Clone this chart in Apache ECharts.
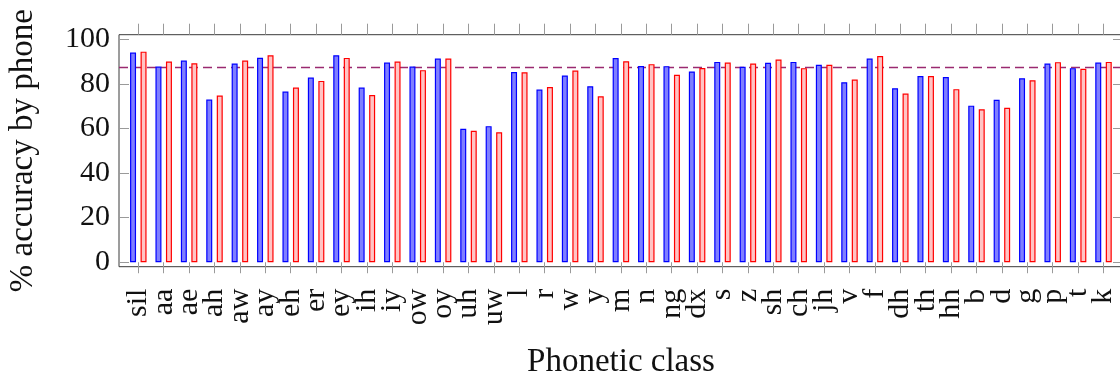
<!DOCTYPE html>
<html>
<head>
<meta charset="utf-8">
<script src="https://cdn.jsdelivr.net/npm/echarts@6/dist/echarts.min.js"></script>
<style>
  html, body { margin: 0; padding: 0; background: #fff; }
  #chart { width: 1120px; height: 377px; }
</style>
</head>
<body>
<div id="chart"></div>
<script>
// Phone classes on the x axis
const categories = ['sil','aa','ae','ah','aw','ay','eh','er','ey','ih','iy','ow','oy','uh','uw',
  'l','r','w','y','m','n','ng','dx','s','z','sh','ch','jh','v','f','dh','th','hh','b','d','g','p','t','k'];

// Accuracy (%) per phone class for the two systems
const accuracyBlue = [94.0, 87.7, 90.4, 72.9, 89.1, 91.7, 76.5, 82.8, 92.8, 78.3, 89.5, 87.7, 91.3, 59.8, 61.0,
  85.3, 77.4, 83.7, 78.9, 91.5, 88.0, 87.9, 85.5, 89.8, 87.6, 89.4, 89.8, 88.5, 80.7, 91.3, 78.0, 83.5, 83.0,
  70.2, 72.8, 82.5, 89.1, 87.0, 89.5];
const accuracyRed = [94.4, 90.0, 89.2, 74.7, 90.4, 92.8, 78.3, 81.3, 91.6, 75.0, 90.0, 86.1, 91.3, 58.9, 58.3,
  85.2, 78.5, 85.9, 74.4, 90.1, 88.8, 84.0, 87.1, 89.5, 89.1, 90.9, 87.0, 88.5, 81.9, 92.4, 75.6, 83.5, 77.6,
  68.6, 69.2, 81.6, 89.7, 86.7, 89.8];

// Overall accuracy reference level (dashed line)
const overallAccuracy = 87.3;

// Y axis tick values
const yTicks = [0, 20, 40, 60, 80, 100];

const FONT = "'Liberation Serif', 'DejaVu Serif', serif";
const Y_MIN = -2, Y_MAX = 102;
const TOP = 34.7, HEIGHT = 232;

const chart = echarts.init(document.getElementById('chart'), null, { renderer: 'canvas' });

chart.setOption({
  animation: false,
  backgroundColor: '#fff',
  grid: [
    // bars
    { left: 125.6, top: TOP, width: 990.6, height: HEIGHT, containLabel: false, outerBoundsMode: 'none' },
    // framed box with axes
    { left: 119, top: TOP, width: 1004, height: HEIGHT, containLabel: false, outerBoundsMode: 'none',
      show: true, borderColor: '#3a3a3a', borderWidth: 1, backgroundColor: 'transparent' }
  ],
  xAxis: [
    {
      gridIndex: 0, type: 'category', data: categories, position: 'bottom',
      axisLine: { show: false },
      axisTick: { show: true, alignWithLabel: true, interval: 0, length: 11,
                  lineStyle: { color: '#9a9a9a', width: 1 } },
      axisLabel: { interval: 0, rotate: 90, margin: 22, fontSize: 30, fontFamily: FONT, color: '#111' },
      splitLine: { show: false }
    },
    {
      gridIndex: 0, type: 'category', data: categories, position: 'top',
      axisLine: { show: false },
      axisTick: { show: true, alignWithLabel: true, interval: 0, length: 11,
                  lineStyle: { color: '#9a9a9a', width: 1 } },
      axisLabel: { show: false },
      splitLine: { show: false }
    },
    {
      gridIndex: 1, type: 'value', min: 0, max: 1, position: 'bottom',
      axisLine: { show: false }, axisTick: { show: false }, axisLabel: { show: false },
      splitLine: { show: false },
      name: 'Phonetic class', nameLocation: 'middle', nameGap: 79,
      nameTextStyle: { fontSize: 33, fontFamily: FONT, color: '#111' }
    }
  ],
  yAxis: [
    { gridIndex: 0, type: 'value', min: Y_MIN, max: Y_MAX, show: false },
    {
      gridIndex: 1, type: 'value', min: Y_MIN, max: Y_MAX, position: 'left',
      axisLine: { show: false },
      axisTick: { show: true, inside: true, length: 10, customValues: yTicks,
                  lineStyle: { color: '#9a9a9a', width: 1 } },
      axisLabel: { customValues: yTicks, margin: 9, fontSize: 30, fontFamily: FONT, color: '#111' },
      splitLine: { show: false },
      name: '% accuracy by phone', nameLocation: 'middle', nameGap: 79, nameRotate: 90,
      nameTextStyle: { fontSize: 33, fontFamily: FONT, color: '#111' }
    },
    {
      gridIndex: 1, type: 'value', min: Y_MIN, max: Y_MAX, position: 'right',
      axisLine: { show: false },
      axisTick: { show: true, inside: true, length: 10, customValues: yTicks,
                  lineStyle: { color: '#9a9a9a', width: 1 } },
      axisLabel: { show: false },
      splitLine: { show: false }
    }
  ],
  series: [
    {
      name: 'Overall', type: 'line', xAxisIndex: 2, yAxisIndex: 1, z: 1,
      data: [[0, overallAccuracy], [1, overallAccuracy]],
      symbol: 'none', silent: true,
      lineStyle: { color: '#9a2a70', width: 1.4, type: [9, 5] }
    },
    {
      name: 'System A', type: 'bar', xAxisIndex: 0, yAxisIndex: 0, z: 3,
      data: accuracyBlue, barWidth: 6, barGap: '75%',
      itemStyle: { color: '#7f7fff', borderColor: '#0000ff', borderWidth: 1.2 }
    },
    {
      name: 'System B', type: 'bar', xAxisIndex: 0, yAxisIndex: 0, z: 3,
      data: accuracyRed, barWidth: 6, barGap: '75%',
      itemStyle: { color: '#ffc4c4', borderColor: '#ff0000', borderWidth: 1.2 }
    }
  ]
});
</script>
</body>
</html>
